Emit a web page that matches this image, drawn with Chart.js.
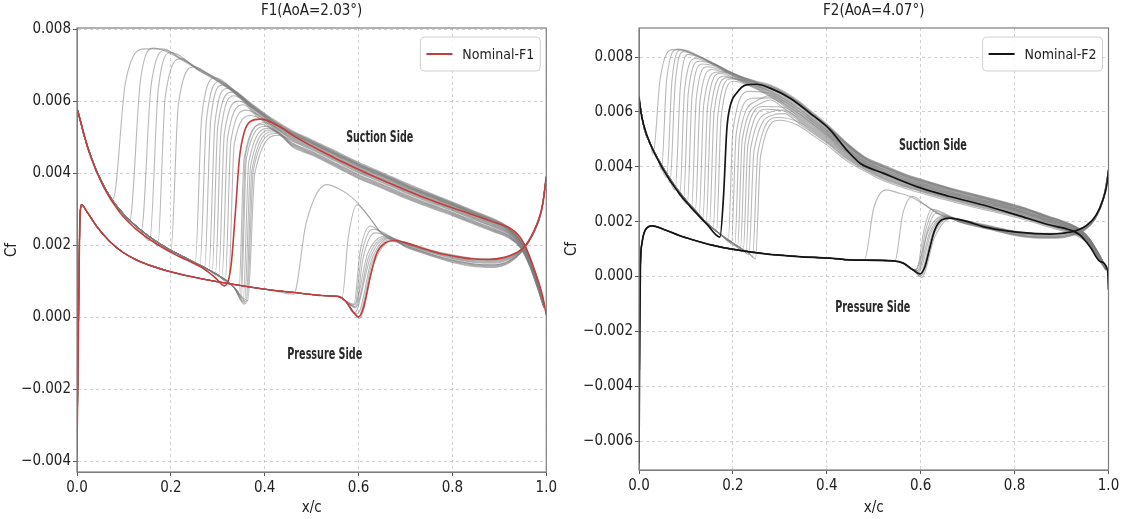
<!DOCTYPE html>
<html><head><meta charset="utf-8">
<script src="https://cdn.jsdelivr.net/npm/chart.js@4.4.1/dist/chart.umd.min.js"></script>
<style>
html,body{margin:0;padding:0;background:#fff;}
#wrap{position:relative;width:1124px;height:519px;overflow:hidden;}
canvas{position:absolute;top:0;}
#c1{left:0;} #c2{left:560px;}
</style></head><body>
<div id="wrap"><canvas id="c1" width="560" height="519"></canvas><canvas id="c2" width="564" height="519"></canvas></div>
<script>
// ---------- DATA (Cf values stored in units of 1e-3) ----------
const X_TICKS = [0, 0.2, 0.4, 0.6, 0.8, 1.0];
const F1_Y_TICKS = [-0.004, -0.002, 0, 0.002, 0.004, 0.006, 0.008];
const F2_Y_TICKS = [-0.006, -0.004, -0.002, 0, 0.002, 0.004, 0.006, 0.008];

// F1 nominal
const F1_NOM_SUC_X = [0, 0.004, 0.0276, 0.056, 0.091, 0.127, 0.162, 0.197, 0.233, 0.268, 0.296, 0.314, 0.328, 0.338, 0.346, 0.356, 0.370, 0.392, 0.4235, 0.466, 0.522, 0.593, 0.664, 0.734, 0.812, 0.883, 0.9325, 0.954, 0.975, 0.9925, 1.0];
const F1_NOM_SUC_Y = [5.77, 5.6, 4.51, 3.63, 2.91, 2.43, 2.10, 1.82, 1.59, 1.36, 1.08, 0.87, 1.4, 3.0, 4.4, 5.12, 5.44, 5.50, 5.35, 5.0, 4.6, 4.14, 3.73, 3.35, 2.98, 2.66, 2.38, 2.01, 1.31, 0.57, 0.06];
const F1_NOM_PRE_X = [0, 0.003, 0.0064, 0.01, 0.0205, 0.042, 0.070, 0.098, 0.127, 0.162, 0.197, 0.268, 0.339, 0.409, 0.473, 0.522, 0.558, 0.572, 0.590, 0.600, 0.611, 0.625, 0.639, 0.657, 0.678, 0.699, 0.734, 0.770, 0.805, 0.840, 0.876, 0.911, 0.935, 0.957, 0.978, 0.993, 1.0];
const F1_NOM_PRE_Y = [-3.7, -0.3, 2.8, 3.12, 2.94, 2.52, 2.10, 1.80, 1.59, 1.41, 1.27, 1.06, 0.90, 0.76, 0.67, 0.60, 0.57, 0.45, 0.12, 0.0, 0.29, 1.13, 1.78, 2.06, 2.13, 2.07, 1.92, 1.78, 1.69, 1.62, 1.60, 1.66, 1.78, 2.0, 2.52, 3.17, 3.91];

// F1 samples, suction side: laminar branch, transition (T), knee (K), peak (P), turbulent band position (F)
const F1_LAM_X = [0, 0.004, 0.015, 0.03, 0.05, 0.075, 0.10, 0.13, 0.16, 0.19, 0.22, 0.25, 0.28, 0.30, 0.32, 0.335];
const F1_LAM_Y = [5.8, 5.62, 5.05, 4.45, 3.82, 3.25, 2.85, 2.48, 2.18, 1.93, 1.72, 1.52, 1.32, 1.17, 1.0, 0.82];
const F1_T_X = [0.077, 0.112, 0.137, 0.155, 0.172, 0.200, 0.252, 0.262, 0.272, 0.281, 0.288, 0.295, 0.302, 0.309, 0.316, 0.323, 0.345, 0.348, 0.350, 0.354, 0.357, 0.360, 0.362, 0.364];
const F1_T_Y = [3.28, 2.65, 2.40, 2.12, 1.97, 1.82, 1.52, 1.45, 1.38, 1.30, 1.25, 1.20, 1.14, 1.08, 1.02, 0.96, 0.70, 0.62, 0.55, 0.42, 0.36, 0.38, 0.42, 0.46];
const F1_K_X = [0.103, 0.135, 0.158, 0.173, 0.188, 0.216, 0.266, 0.276, 0.285, 0.294, 0.300, 0.307, 0.314, 0.321, 0.328, 0.335, 0.356, 0.359, 0.361, 0.366, 0.370, 0.373, 0.376, 0.379];
const F1_K_Y = [6.5, 6.55, 6.45, 6.3, 6.1, 5.9, 5.6, 5.5, 5.5, 5.4, 5.3, 5.2, 5.1, 5.0, 4.9, 4.8, 4.4, 4.5, 4.4, 4.3, 4.2, 4.1, 4.1, 4.0];
const F1_P_X = [0.145, 0.163, 0.19, 0.20, 0.222, 0.25, 0.295, 0.305, 0.31, 0.32, 0.33, 0.335, 0.345, 0.355, 0.36, 0.37, 0.395, 0.40, 0.402, 0.41, 0.415, 0.42, 0.425, 0.43];
const F1_P_Y = [7.45, 7.47, 7.42, 7.35, 7.18, 6.95, 6.65, 6.55, 6.45, 6.35, 6.25, 6.15, 6.0, 5.9, 5.75, 5.6, 5.35, 5.4, 5.3, 5.25, 5.2, 5.15, 5.1, 5.05];
const F1_F = [1.0, 0.95, 0.9, 0.85, 0.8, 0.75, 0.9, 0.8, 0.7, 0.85, 0.6, 0.5, 0.75, 0.4, 0.65, 0.55, 0.35, 0.45, 0.25, 0.2, 0.15, 0.1, 0.05, 0.0];
const F1_BAND_X = [0.18, 0.22, 0.26, 0.30, 0.34, 0.38, 0.42, 0.46, 0.50, 0.55, 0.60, 0.65, 0.70, 0.75, 0.80, 0.85, 0.89, 0.92, 0.945, 0.965, 0.98, 0.995];
const F1_BAND_UP = [7.45, 7.2, 6.9, 6.62, 6.26, 5.85, 5.48, 5.17, 4.93, 4.62, 4.30, 4.02, 3.73, 3.46, 3.20, 2.93, 2.72, 2.50, 2.15, 1.65, 1.10, 0.40];
const F1_BAND_LO = [7.1, 6.9, 6.6, 6.3, 5.95, 5.45, 5.0, 4.72, 4.50, 4.18, 3.85, 3.58, 3.30, 3.05, 2.82, 2.56, 2.36, 2.20, 1.92, 1.40, 0.85, 0.25];

// F1 samples, pressure side
const F1_PT_X = [0.462, 0.565, 0.590, 0.592, 0.594, 0.600, 0.598, 0.596, 0.594, 0.592, 0.602];
const F1_PT_Y = [0.64, 0.56, 0.34, 0.30, 0.26, 0.02, 0.10, 0.18, 0.28, 0.36, -0.04];
const F1_PK_X = [0.488, 0.578, 0.603, 0.606, 0.609, 0.630, 0.628, 0.625, 0.622, 0.619, 0.633];
const F1_PK_Y = [2.6, 2.2, 1.8, 1.7, 1.6, 1.55, 1.6, 1.65, 1.7, 1.75, 1.5];
const F1_PP_X = [0.532, 0.597, 0.625, 0.630, 0.635, 0.668, 0.665, 0.662, 0.660, 0.657, 0.672];
const F1_PP_Y = [3.68, 3.12, 2.53, 2.44, 2.34, 2.15, 2.18, 2.2, 2.22, 2.25, 2.12];
const F1_PF = [0.5, 0.3, 0.7, 0.2, 0.9, 1.0, 0.8, 0.3, 0.1, 0.0, 0.6];
const F1_PBAND_X = [0.56, 0.59, 0.62, 0.65, 0.70, 0.75, 0.80, 0.85, 0.89, 0.92, 0.95, 0.97, 0.99, 1.0];
const F1_PBAND_UP = [3.55, 3.28, 2.82, 2.35, 2.08, 1.88, 1.73, 1.63, 1.62, 1.70, 1.92, 2.32, 3.0, 3.9];
const F1_PBAND_LO = [3.55, 3.28, 2.82, 2.30, 1.95, 1.72, 1.52, 1.40, 1.38, 1.50, 1.85, 2.25, 2.95, 3.85];

// F2 nominal
const F2_NOM_SUC_X = [0, 0.004, 0.009, 0.0234, 0.052, 0.087, 0.12, 0.145, 0.1725, 0.18, 0.187, 0.194, 0.208, 0.229, 0.25, 0.279, 0.322, 0.364, 0.407, 0.442, 0.471, 0.520, 0.591, 0.662, 0.733, 0.804, 0.875, 0.918, 0.939, 0.9606, 0.982, 0.998, 1.0];
const F2_NOM_SUC_Y = [6.56, 6.0, 5.59, 4.86, 3.89, 3.0, 2.35, 1.9, 1.44, 2.92, 5.35, 6.20, 6.69, 6.99, 7.01, 6.87, 6.50, 5.96, 5.35, 4.62, 4.13, 3.77, 3.28, 2.92, 2.61, 2.25, 1.88, 1.70, 1.52, 1.09, 0.55, 0.24, -0.49];
const F2_NOM_PRE_X = [0, 0.0015, 0.003, 0.0064, 0.0135, 0.0277, 0.056, 0.0916, 0.127, 0.1625, 0.198, 0.269, 0.340, 0.406, 0.449, 0.542, 0.563, 0.584, 0.5985, 0.609, 0.620, 0.630, 0.645, 0.662, 0.698, 0.733, 0.769, 0.805, 0.875, 0.903, 0.932, 0.953, 0.974, 0.988, 0.997, 1.0];
const F2_NOM_PRE_Y = [-6.8, -2.0, 0.36, 1.22, 1.70, 1.85, 1.70, 1.46, 1.28, 1.12, 1.00, 0.83, 0.73, 0.67, 0.61, 0.57, 0.49, 0.24, 0.10, 0.36, 1.09, 1.70, 2.07, 2.13, 2.01, 1.82, 1.70, 1.62, 1.55, 1.58, 1.68, 1.86, 2.25, 2.80, 3.40, 3.89];

// F2 samples, suction side
const F2_LAM_X = [0, 0.005, 0.012, 0.025, 0.04, 0.06, 0.08, 0.10, 0.12, 0.14, 0.16, 0.18, 0.20, 0.22, 0.235, 0.25];
const F2_LAM_Y = [6.5, 5.95, 5.35, 4.8, 4.3, 3.72, 3.22, 2.78, 2.4, 2.02, 1.72, 1.45, 1.22, 1.0, 0.84, 0.68];
const F2_T_X = [0.030, 0.048, 0.059, 0.066, 0.077, 0.087, 0.095, 0.103, 0.112, 0.120, 0.128, 0.136, 0.143, 0.150, 0.158, 0.165, 0.190, 0.197, 0.204, 0.210, 0.216, 0.222, 0.228, 0.234, 0.242, 0.248];
const F2_T_Y = [4.45, 3.9, 3.6, 3.42, 3.15, 2.95, 2.8, 2.64, 2.48, 2.36, 2.22, 2.08, 1.96, 1.86, 1.74, 1.64, 1.3, 1.22, 1.14, 1.08, 1.0, 0.93, 0.87, 0.8, 0.72, 0.64];
const F2_K_X = [0.045, 0.059, 0.070, 0.077, 0.088, 0.097, 0.105, 0.113, 0.122, 0.130, 0.138, 0.146, 0.153, 0.160, 0.168, 0.175, 0.200, 0.207, 0.214, 0.220, 0.226, 0.232, 0.238, 0.245, 0.253, 0.259];
const F2_K_Y = [7.2, 7.2, 7.1, 7.0, 6.9, 6.8, 6.7, 6.6, 6.5, 6.4, 6.3, 6.2, 6.1, 6.0, 5.9, 5.8, 5.3, 5.2, 5.1, 5.0, 4.9, 4.8, 4.7, 4.6, 4.5, 4.4];
const F2_P_X = [0.072, 0.082, 0.089, 0.095, 0.105, 0.12, 0.128, 0.135, 0.145, 0.155, 0.165, 0.172, 0.18, 0.188, 0.195, 0.202, 0.235, 0.242, 0.25, 0.258, 0.265, 0.272, 0.28, 0.288, 0.295, 0.30];
const F2_P_Y = [8.27, 8.29, 8.26, 8.2, 8.1, 7.95, 7.85, 7.75, 7.65, 7.55, 7.45, 7.4, 7.3, 7.25, 7.2, 7.12, 6.75, 6.5, 6.4, 6.3, 6.2, 6.1, 6.0, 5.9, 5.8, 5.7];
const F2_F = [1.0, 0.95, 0.9, 0.95, 0.85, 0.8, 0.9, 0.7, 0.75, 0.6, 0.85, 0.5, 0.65, 0.55, 0.7, 0.45, 0.6, 0.4, 0.5, 0.3, 0.35, 0.2, 0.25, 0.1, 0.15, 0.0];
const F2_BAND_X = [0.10, 0.13, 0.16, 0.19, 0.22, 0.25, 0.28, 0.31, 0.34, 0.37, 0.40, 0.44, 0.48, 0.52, 0.57, 0.62, 0.67, 0.72, 0.77, 0.82, 0.87, 0.91, 0.94, 0.96, 0.98, 0.995];
const F2_BAND_UP = [8.25, 8.02, 7.77, 7.5, 7.28, 7.12, 6.98, 6.74, 6.4, 5.98, 5.56, 4.92, 4.38, 4.07, 3.72, 3.45, 3.2, 2.98, 2.76, 2.52, 2.22, 1.98, 1.72, 1.38, 0.82, 0.32];
const F2_BAND_LO = [7.9, 7.7, 7.45, 7.2, 6.9, 6.6, 6.2, 5.85, 5.5, 5.15, 4.8, 4.25, 3.85, 3.5, 3.2, 2.95, 2.72, 2.5, 2.3, 2.08, 1.82, 1.62, 1.42, 1.12, 0.6, 0.22];

// F2 samples, pressure side
const F2_PT_X = [0.48, 0.545, 0.592, 0.594, 0.596, 0.600, 0.598, 0.596, 0.594, 0.592, 0.602];
const F2_PT_Y = [0.60, 0.57, 0.28, 0.24, 0.20, 0.02, 0.08, 0.15, 0.22, 0.30, -0.03];
const F2_PK_X = [0.50, 0.562, 0.607, 0.610, 0.613, 0.627, 0.625, 0.622, 0.620, 0.617, 0.630];
const F2_PK_Y = [2.5, 2.3, 1.7, 1.65, 1.6, 1.5, 1.55, 1.6, 1.65, 1.7, 1.45];
const F2_PP_X = [0.527, 0.583, 0.623, 0.628, 0.632, 0.660, 0.658, 0.656, 0.654, 0.652, 0.664];
const F2_PP_Y = [3.16, 2.92, 2.45, 2.38, 2.3, 2.14, 2.16, 2.18, 2.2, 2.22, 2.12];
const F2_PF = [0.5, 0.3, 0.7, 0.2, 0.9, 1.0, 0.8, 0.3, 0.1, 0.0, 0.6];
const F2_PBAND_X = [0.55, 0.58, 0.61, 0.64, 0.68, 0.72, 0.76, 0.80, 0.85, 0.89, 0.92, 0.95, 0.97, 0.99, 1.0];
const F2_PBAND_UP = [3.06, 2.9, 2.6, 2.3, 2.1, 1.95, 1.8, 1.66, 1.58, 1.58, 1.66, 1.84, 2.15, 2.95, 3.89];
const F2_PBAND_LO = [3.06, 2.9, 2.6, 2.25, 2.0, 1.82, 1.66, 1.5, 1.40, 1.40, 1.48, 1.70, 2.05, 2.85, 3.8];

// ---------- BUILD ----------
const UNIT = 1e-3;
function pts(xs, ys) { return xs.map((x, i) => ({x: x, y: ys[i] * UNIT})); }
function samples(lamX, lamY, tX, tY, kX, kY, pX, pY, f, bX, bU, bL) {
  return tX.map((tx, i) => {
    const d = [];
    lamX.forEach((x, j) => { if (x < tx - 0.004) d.push({x: x, y: lamY[j] * UNIT}); });
    d.push({x: tx, y: tY[i] * UNIT}, {x: kX[i], y: kY[i] * UNIT}, {x: pX[i], y: pY[i] * UNIT});
    bX.forEach((x, j) => { if (x > pX[i] + 0.02) d.push({x: x, y: (bL[j] + f[i] * (bU[j] - bL[j])) * UNIT}); });
    return d;
  });
}

const GRAY = 'rgba(125,125,125,0.55)';
const FONT = '"DejaVu Sans Condensed", "DejaVu Sans", sans-serif';

function line(data, color, width, order) {
  return {data: data, borderColor: color, backgroundColor: color, borderWidth: width, pointRadius: 0,
    showLine: true, fill: false, cubicInterpolationMode: 'monotone', order: order};
}

const decoPlugin = {
  id: 'deco',
  afterDraw(chart, args, o) {
    const ctx = chart.ctx, a = chart.chartArea;
    const xs = chart.scales.x, ys = chart.scales.y;
    ctx.save();
    // frame
    ctx.strokeStyle = '#7d7d7d'; ctx.lineWidth = 1.2; ctx.setLineDash([]);
    ctx.strokeRect(a.left, a.top, a.right - a.left, a.bottom - a.top);
    // title
    ctx.fillStyle = '#222'; ctx.font = '15px ' + FONT; ctx.textAlign = 'center'; ctx.textBaseline = 'middle';
    ctx.fillText(o.title, (a.left + a.right) / 2, 11);
    // notes
    o.notes.forEach(n => {
      ctx.font = 'bold 15px ' + FONT;
      const w = ctx.measureText(n.text).width;
      ctx.save();
      ctx.translate(xs.getPixelForValue(n.x), ys.getPixelForValue(n.y));
      ctx.scale(n.w / w, 1);
      ctx.fillStyle = '#2a2a2a'; ctx.textAlign = 'center'; ctx.textBaseline = 'middle';
      ctx.fillText(n.text, 0, 0);
      ctx.restore();
    });
    // legend
    ctx.font = '14px ' + FONT;
    const tw = ctx.measureText(o.label).width;
    const bw = 6 + 26 + 10 + tw + 6, bh = 34;
    const bx = a.right - 6 - bw, by = a.top + 9;
    ctx.beginPath();
    if (ctx.roundRect) ctx.roundRect(bx, by, bw, bh, 4); else ctx.rect(bx, by, bw, bh);
    ctx.fillStyle = 'rgba(255,255,255,0.85)'; ctx.fill();
    ctx.strokeStyle = '#d0d0d0'; ctx.lineWidth = 1; ctx.stroke();
    ctx.beginPath(); ctx.moveTo(bx + 6, by + bh / 2); ctx.lineTo(bx + 32, by + bh / 2);
    ctx.strokeStyle = o.color; ctx.lineWidth = 2; ctx.stroke();
    ctx.fillStyle = '#222'; ctx.textAlign = 'left'; ctx.textBaseline = 'middle';
    ctx.fillText(o.label, bx + 42, by + bh / 2 + 1);
    ctx.restore();
  }
};

function yLabel(v) { return (v < -1e-12 ? '\u2212' : '') + Math.abs(v).toFixed(3); }

function makeChart(id, cfg) {
  const datasets = [];
  datasets.push(line(pts(cfg.sucX, cfg.sucY), cfg.color, cfg.width, 0));
  datasets.push(line(pts(cfg.preX, cfg.preY), cfg.color, cfg.width, 0));
  cfg.gray.forEach(d => datasets.push(line(d, GRAY, 1.1, 1)));
  const tickFont = {family: FONT, size: 15};
  return new Chart(document.getElementById(id), {
    type: 'scatter',
    data: {datasets: datasets},
    plugins: [decoPlugin],
    options: {
      responsive: false, animation: false, devicePixelRatio: 1,
      layout: {padding: {top: 28, right: cfg.padRight, left: 0, bottom: 0}},
      plugins: {legend: {display: false}, tooltip: {enabled: false},
        deco: {title: cfg.title, label: cfg.label, color: cfg.color, notes: cfg.notes}},
      scales: {
        x: {type: 'linear', min: 0, max: 1,
          afterBuildTicks: s => { s.ticks = X_TICKS.map(v => ({value: v})); },
          afterFit: s => { s.height = cfg.xH; },
          ticks: {callback: v => Number(v).toFixed(1), font: tickFont, color: '#222', padding: 3, maxRotation: 0, autoSkip: false},
          grid: {color: '#c4c4c4', lineWidth: 0.8, tickLength: 4, tickColor: '#555', tickWidth: 1},
          border: {display: true, color: '#7d7d7d', dash: [3, 3]},
          title: {display: true, text: 'x/c', font: tickFont, color: '#222', padding: {top: 0, bottom: 2}}},
        y: {type: 'linear', min: cfg.yMin, max: cfg.yMax,
          afterBuildTicks: s => { s.ticks = cfg.yTicks.map(v => ({value: v})); },
          afterFit: s => { s.width = cfg.yW; },
          ticks: {callback: v => yLabel(v), font: tickFont, color: '#222', padding: 2, autoSkip: false},
          grid: {color: '#c4c4c4', lineWidth: 0.8, tickLength: 4, tickColor: '#555', tickWidth: 1},
          border: {display: true, color: '#7d7d7d', dash: [3, 3]},
          title: {display: true, text: 'Cf', font: tickFont, color: '#222', padding: {top: 3, bottom: 0}}}
      }
    }
  });
}

makeChart('c1', {
  title: 'F1(AoA=2.03\u00B0)', label: 'Nominal-F1', color: '#c43d3d', width: 1.6,
  sucX: F1_NOM_SUC_X, sucY: F1_NOM_SUC_Y, preX: F1_NOM_PRE_X, preY: F1_NOM_PRE_Y,
  gray: samples(F1_LAM_X, F1_LAM_Y, F1_T_X, F1_T_Y, F1_K_X, F1_K_Y, F1_P_X, F1_P_Y, F1_F, F1_BAND_X, F1_BAND_UP, F1_BAND_LO)
    .concat(samples(F1_NOM_PRE_X, F1_NOM_PRE_Y, F1_PT_X, F1_PT_Y, F1_PK_X, F1_PK_Y, F1_PP_X, F1_PP_Y, F1_PF, F1_PBAND_X, F1_PBAND_UP, F1_PBAND_LO)),
  yMin: -0.0043, yMax: 0.00803, yTicks: F1_Y_TICKS, yW: 77, xH: 47, padRight: 11.5,
  notes: [{text: 'Suction Side', x: 0.645, y: 0.00498, w: 67}, {text: 'Pressure Side', x: 0.528, y: -0.00105, w: 75}]
});
makeChart('c2', {
  title: 'F2(AoA=4.07\u00B0)', label: 'Nominal-F2', color: '#141414', width: 1.7,
  sucX: F2_NOM_SUC_X, sucY: F2_NOM_SUC_Y, preX: F2_NOM_PRE_X, preY: F2_NOM_PRE_Y,
  gray: samples(F2_LAM_X, F2_LAM_Y, F2_T_X, F2_T_Y, F2_K_X, F2_K_Y, F2_P_X, F2_P_Y, F2_F, F2_BAND_X, F2_BAND_UP, F2_BAND_LO)
    .concat(samples(F2_NOM_PRE_X, F2_NOM_PRE_Y, F2_PT_X, F2_PT_Y, F2_PK_X, F2_PK_Y, F2_PP_X, F2_PP_Y, F2_PF, F2_PBAND_X, F2_PBAND_UP, F2_PBAND_LO)),
  yMin: -0.00705, yMax: 0.00906, yTicks: F2_Y_TICKS, yW: 79, xH: 49, padRight: 15.5,
  notes: [{text: 'Suction Side', x: 0.626, y: 0.00476, w: 68}, {text: 'Pressure Side', x: 0.498, y: -0.00114, w: 75}]
});
</script></body></html>
